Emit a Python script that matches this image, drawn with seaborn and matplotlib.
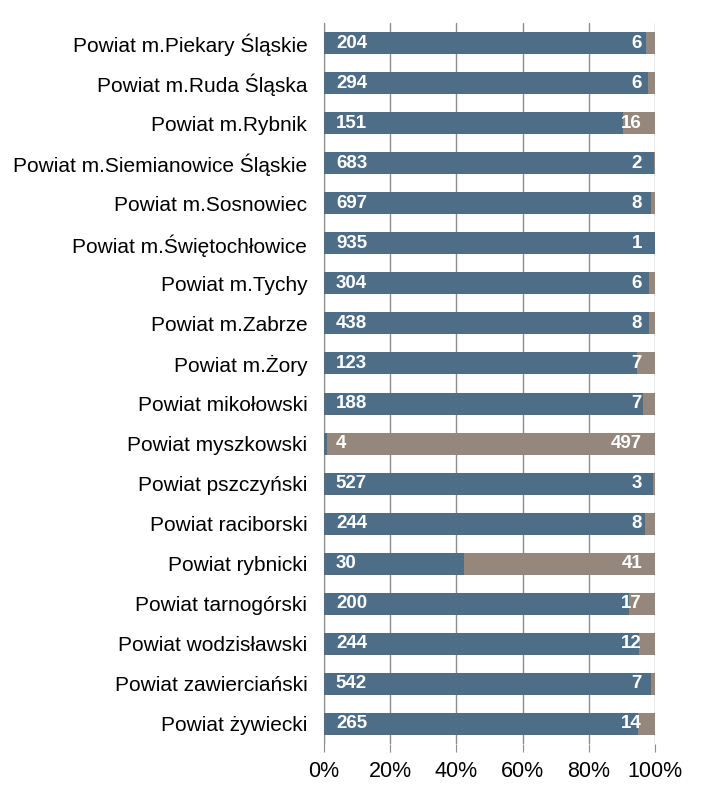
import matplotlib
matplotlib.use("Agg")
import matplotlib.pyplot as plt
import seaborn as sns
import pandas as pd
from matplotlib.ticker import PercentFormatter

powiaty = [
    "Powiat m.Piekary Śląskie", "Powiat m.Ruda Śląska", "Powiat m.Rybnik",
    "Powiat m.Siemianowice Śląskie", "Powiat m.Sosnowiec", "Powiat m.Świętochłowice",
    "Powiat m.Tychy", "Powiat m.Zabrze", "Powiat m.Żory", "Powiat mikołowski",
    "Powiat myszkowski", "Powiat pszczyński", "Powiat raciborski", "Powiat rybnicki",
    "Powiat tarnogórski", "Powiat wodzisławski", "Powiat zawierciański", "Powiat żywiecki",
]
seria_a = [204, 294, 151, 683, 697, 935, 304, 438, 123, 188, 4, 527, 244, 30, 200, 244, 542, 265]
seria_b = [6, 6, 16, 2, 8, 1, 6, 8, 7, 7, 497, 3, 8, 41, 17, 12, 7, 14]

BLUE = "#4E6E88"
BROWN = "#95877B"

df = pd.DataFrame({"powiat": powiaty, "a": seria_a, "b": seria_b})
df["total"] = df["a"] + df["b"]
df["pct_a"] = df["a"] / df["total"] * 100
df["pct_all"] = 100.0

sns.set_style("white")
plt.rcParams["font.family"] = ["Liberation Sans", "DejaVu Sans"]
plt.rcParams["text.color"] = "black"

fig = plt.figure(figsize=(7.05, 7.94), dpi=100)
ax = fig.add_axes([0.4596, 0.063, 0.4695, 0.908])

# stacked: full 100% bar in brown, blue share on top
sns.barplot(data=df, y="powiat", x="pct_all", color=BROWN, orient="h",
            width=0.55, saturation=1, linewidth=0, ax=ax, zorder=3)
sns.barplot(data=df, y="powiat", x="pct_a", color=BLUE, orient="h",
            width=0.55, saturation=1, linewidth=0, ax=ax, zorder=3)

for i, (a, b) in enumerate(zip(seria_a, seria_b)):
    ax.text(3.6, i, str(a), ha="left", va="center", color="white",
            fontsize=13.5, fontweight="bold", zorder=4)
    ax.text(96.1, i, str(b), ha="right", va="center", color="white",
            fontsize=13.5, fontweight="bold", zorder=4)

ax.set_xlim(0, 100)
ax.set_ylim(len(powiaty) - 0.5, -0.5)
ax.set_xticks([0, 20, 40, 60, 80, 100])
ax.xaxis.set_major_formatter(PercentFormatter(decimals=0))
ax.grid(axis="x", color="#8C8C8C", linewidth=1, zorder=0)
ax.set_axisbelow(True)
ax.set_xlabel("")
ax.set_ylabel("")

for s in ["top", "right", "bottom"]:
    ax.spines[s].set_visible(False)
ax.spines["left"].set_color("#8C8C8C")
ax.tick_params(axis="x", length=6, color="#8C8C8C", labelcolor="black",
               labelsize=15.5, pad=6, bottom=True)
ax.tick_params(axis="y", length=0, labelcolor="black", labelsize=15, pad=12)

fig.savefig("out.png", dpi=100)
